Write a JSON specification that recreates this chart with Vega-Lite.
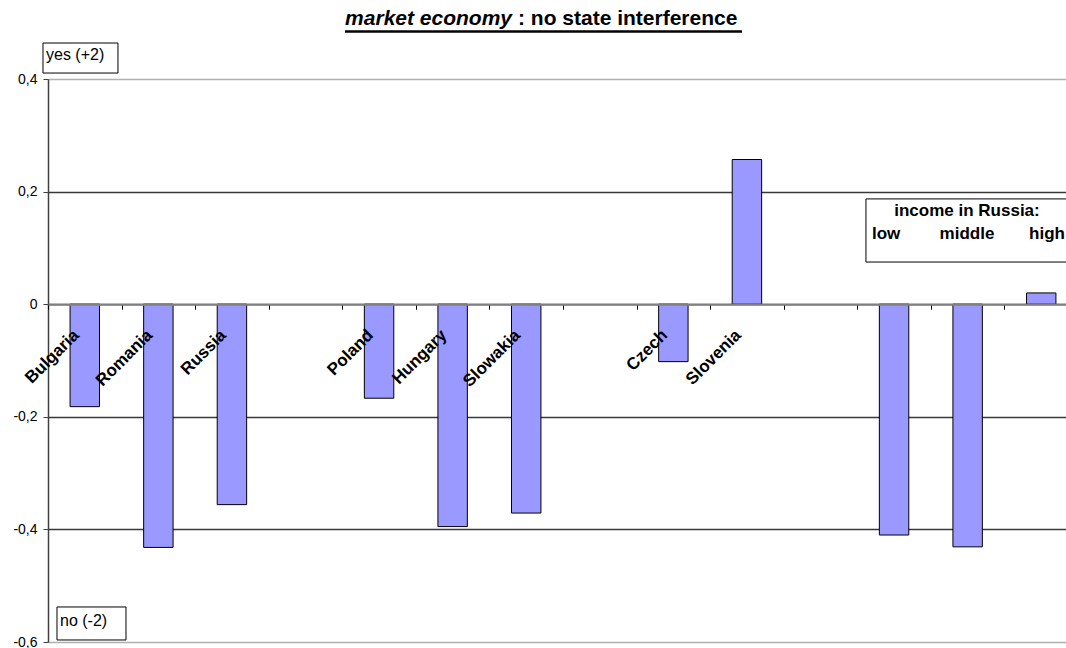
{
  "$schema": "https://vega.github.io/schema/vega-lite/v6.json",
  "width": 1018,
  "height": 563,
  "autosize": {"type": "none"},
  "padding": {"left": 48, "top": 79, "right": 0, "bottom": 6},
  "background": "white",
  "config": {
    "view": {"stroke": null},
    "font": "Liberation Sans",
    "locale": {"number": {"decimal": ",", "thousands": ".", "grouping": [3], "currency": ["", " €"], "minus": "-"}}
  },
  "resolve": {"scale": {"x": "independent", "y": "independent"}},
  "layer": [
    {
      "data": {"values": [
        {"country": "Bulgaria", "value": -0.182},
        {"country": "Romania", "value": -0.432},
        {"country": "Russia", "value": -0.356},
        {"country": "Poland", "value": -0.167},
        {"country": "Hungary", "value": -0.395},
        {"country": "Slowakia", "value": -0.371},
        {"country": "Czech", "value": -0.102},
        {"country": "Slovenia", "value": 0.257},
        {"country": "low", "value": -0.41},
        {"country": "middle", "value": -0.431},
        {"country": "high", "value": 0.02}
      ]},
      "mark": {"type": "bar", "fill": "#9999FF", "stroke": "#000000", "strokeWidth": 1, "width": {"band": 0.4}},
      "encoding": {
        "x": {
          "field": "country", "type": "nominal", "sort": null,
          "scale": {"domain": ["Bulgaria", "Romania", "Russia", "gap1", "Poland", "Hungary", "Slowakia", "gap2", "Czech", "Slovenia", "gap3", "low", "middle", "high"], "range": [0, 1030], "paddingInner": 0, "paddingOuter": 0},
          "axis": {
            "title": null, "orient": "bottom", "offset": -337.8, "zindex": 1,
            "domainColor": "#808080", "domainWidth": 2,
            "tickBand": "extent", "tickColor": "#000000", "tickSize": 5, "tickWidth": 1,
            "labelAngle": -45, "labelAlign": "right", "labelBaseline": "middle",
            "labelFont": "Liberation Sans", "labelFontWeight": "bold", "labelFontSize": 17, "labelColor": "#000000",
            "labelPadding": 23, "labelOffset": -9, "labelOverlap": false, "labelBound": false,
            "labelExpr": "indexof(['gap1','gap2','gap3','low','middle','high'], datum.value) >= 0 ? '' : datum.value",
            "grid": false
          }
        },
        "y": {
          "field": "value", "type": "quantitative",
          "scale": {"domain": [-0.6, 0.4], "nice": false, "zero": false},
          "axis": {
            "title": null, "values": [-0.6, -0.4, -0.2, 0, 0.2, 0.4], "format": "~g",
            "domainColor": "#404040", "domainWidth": 1.5,
            "tickColor": "#404040", "tickSize": 5,
            "labelFont": "Liberation Sans", "labelFontSize": 14, "labelColor": "#000000", "labelPadding": 6,
            "grid": true, "gridWidth": 1.3,
            "gridColor": {"condition": {"test": "datum.value == 0.4 || datum.value == -0.6", "value": "#b0b0b0"}, "value": "#383838"}
          }
        }
      }
    },
    {
      "data": {"values": [{}]},
      "layer": [
        {
          "mark": {"type": "rect", "fill": "white", "stroke": "#000000", "strokeWidth": 1},
          "encoding": {
            "x": {"datum": -0.068, "type": "quantitative", "scale": {"domain": [0, 14], "range": [0, 1030], "nice": false, "zero": false}, "axis": null},
            "x2": {"datum": 0.951},
            "y": {"datum": 0.4106, "type": "quantitative", "scale": {"domain": [-0.6, 0.4], "nice": false, "zero": false}, "axis": null},
            "y2": {"datum": 0.4639}
          }
        },
        {
          "mark": {"type": "text", "align": "left", "baseline": "alphabetic", "fontSize": 16, "font": "Liberation Sans", "color": "#000000"},
          "encoding": {"x": {"datum": -0.027, "type": "quantitative"}, "y": {"datum": 0.4329, "type": "quantitative"}, "text": {"value": "yes (+2)"}}
        },
        {
          "mark": {"type": "rect", "fill": "white", "stroke": "#000000", "strokeWidth": 1},
          "encoding": {"x": {"datum": 0.1223, "type": "quantitative"}, "x2": {"datum": 1.06}, "y": {"datum": -0.5964, "type": "quantitative"}, "y2": {"datum": -0.5378}}
        },
        {
          "mark": {"type": "text", "align": "left", "baseline": "alphabetic", "fontSize": 16, "font": "Liberation Sans", "color": "#000000"},
          "encoding": {"x": {"datum": 0.163, "type": "quantitative"}, "y": {"datum": -0.5716, "type": "quantitative"}, "text": {"value": "no (-2)"}}
        },
        {
          "mark": {"type": "rect", "fill": "white", "stroke": "#000000", "strokeWidth": 1},
          "encoding": {"x": {"datum": 11.118, "type": "quantitative"}, "x2": {"datum": 14.6}, "y": {"datum": 0.0749, "type": "quantitative"}, "y2": {"datum": 0.187}}
        },
        {
          "mark": {"type": "text", "align": "center", "baseline": "alphabetic", "fontSize": 17, "fontWeight": "bold", "font": "Liberation Sans", "color": "#000000"},
          "encoding": {"x": {"datum": 12.491, "type": "quantitative"}, "y": {"datum": 0.1567, "type": "quantitative"}, "text": {"value": "income in Russia:"}}
        },
        {
          "mark": {"type": "text", "align": "left", "baseline": "alphabetic", "fontSize": 17, "fontWeight": "bold", "font": "Liberation Sans", "color": "#000000"},
          "encoding": {"x": {"datum": 11.2, "type": "quantitative"}, "y": {"datum": 0.1153, "type": "quantitative"}, "text": {"value": "low"}}
        },
        {
          "mark": {"type": "text", "align": "center", "baseline": "alphabetic", "fontSize": 17, "fontWeight": "bold", "font": "Liberation Sans", "color": "#000000"},
          "encoding": {"x": {"datum": 12.491, "type": "quantitative"}, "y": {"datum": 0.1153, "type": "quantitative"}, "text": {"value": "middle"}}
        },
        {
          "mark": {"type": "text", "align": "right", "baseline": "alphabetic", "fontSize": 17, "fontWeight": "bold", "font": "Liberation Sans", "color": "#000000"},
          "encoding": {"x": {"datum": 13.823, "type": "quantitative"}, "y": {"datum": 0.1153, "type": "quantitative"}, "text": {"value": "high"}}
        },
        {
          "mark": {"type": "text", "align": "right", "baseline": "alphabetic", "fontSize": 21, "fontWeight": "bold", "fontStyle": "italic", "font": "Liberation Sans", "color": "#000000"},
          "encoding": {"x": {"datum": 6.307, "type": "quantitative"}, "y": {"datum": 0.4959, "type": "quantitative"}, "text": {"value": "market economy"}}
        },
        {
          "mark": {"type": "text", "align": "left", "baseline": "alphabetic", "fontSize": 21, "fontWeight": "bold", "font": "Liberation Sans", "color": "#000000"},
          "encoding": {"x": {"datum": 6.388, "type": "quantitative"}, "y": {"datum": 0.4959, "type": "quantitative"}, "text": {"value": ": no state interference"}}
        },
        {
          "mark": {"type": "rule", "color": "#000000", "strokeWidth": 2.5},
          "encoding": {"x": {"datum": 4.037, "type": "quantitative"}, "x2": {"datum": 9.433}, "y": {"datum": 0.4844, "type": "quantitative"}}
        }
      ]
    }
  ]
}
